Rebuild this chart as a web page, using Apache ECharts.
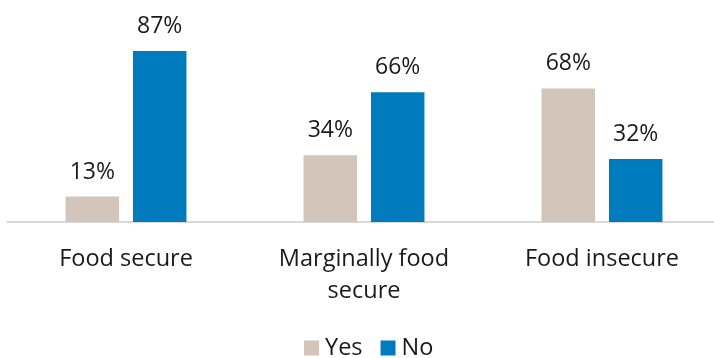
<!DOCTYPE html>
<html><head><meta charset="utf-8">
<script src="https://cdn.jsdelivr.net/npm/echarts@6/dist/echarts.min.js"></script>
<style>html,body{margin:0;padding:0;background:#fff;overflow:hidden}#c{width:721px;height:358px}</style>
</head><body><div id="c"></div>
<script>
const categories = ['Food secure', 'Marginally food\nsecure', 'Food insecure'];
const yesValues = [13, 34, 68];
const noValues = [87, 66, 32];
const seriesNames = ['Yes', 'No'];

const chart = echarts.init(document.getElementById('c'), null, {renderer: 'canvas'});
const font = '"Open Sans", sans-serif';
const lbl = {show: true, position: 'top', distance: 13, formatter: '{c}%', color: '#1a1a1a', fontSize: 23, fontFamily: font};
chart.setOption({
  animation: false,
  textStyle: {fontFamily: font},
  legend: {
    top: 331, left: 299, itemWidth: 15, itemHeight: 15, itemGap: 18,
    icon: 'rect',
    textStyle: {fontSize: 23.5, color: '#1a1a1a', fontFamily: font, padding: [0, 0, 0, 1]},
    data: seriesNames
  },
  grid: {left: 7, right: 0, top: 25.5, height: 196.5, containLabel: false},
  xAxis: {
    type: 'category', data: categories,
    axisLine: {lineStyle: {color: '#D9D9D9', width: 2}},
    axisTick: {show: false},
    axisLabel: {fontSize: 23.5, color: '#1a1a1a', fontFamily: font, lineHeight: 32, margin: 21, interval: 0}
  },
  yAxis: {type: 'value', min: 0, max: 100, show: false, splitLine: {show: false}},
  series: [
    {name: seriesNames[0], type: 'bar', data: yesValues, barWidth: 53.5, barGap: '26%', itemStyle: {color: '#D4C5BA'}, label: lbl},
    {name: seriesNames[1], type: 'bar', data: noValues, barWidth: 53.5, itemStyle: {color: '#007BBD'}, label: lbl}
  ]
});
</script></body></html>
